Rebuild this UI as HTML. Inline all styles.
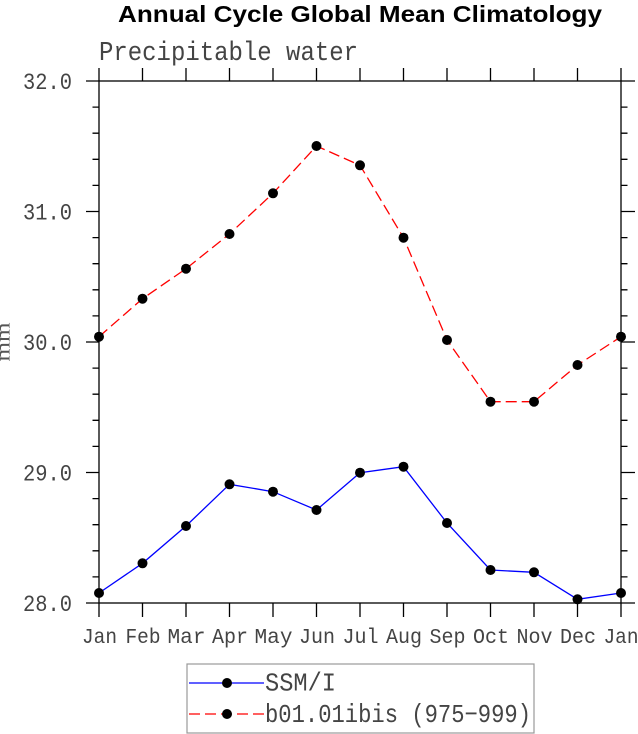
<!DOCTYPE html>
<html><head><meta charset="utf-8"><style>
html,body{margin:0;padding:0;background:#fff;}
svg{display:block;}
</style></head><body>
<svg width="638" height="734" viewBox="0 0 638 734" xmlns="http://www.w3.org/2000/svg">
<rect width="638" height="734" fill="#fff"/>
<text x="360" y="22" font-family="Liberation Sans, sans-serif" font-weight="bold" font-size="23" text-anchor="middle" textLength="484" lengthAdjust="spacingAndGlyphs" fill="#000">Annual Cycle Global Mean Climatology</text>
<text x="99" y="60" font-family="Liberation Mono, monospace" font-size="27" textLength="259" lengthAdjust="spacingAndGlyphs" fill="#444">Precipitable water</text>
<text transform="translate(9.5,342) rotate(-90)" font-family="Liberation Serif, serif" font-size="20" text-anchor="middle" textLength="39" lengthAdjust="spacingAndGlyphs" fill="#555">mm</text>
<g stroke="#000" stroke-width="1.3" fill="none">
<rect x="99" y="81" width="522" height="522"/>
<path d="M86,81H99M86,211.5H99M86,342H99M86,472.5H99M86,603H99M621,81H635M621,211.5H635M621,342H635M621,472.5H635M621,603H635"/>
<path d="M92.5,107.1H99M92.5,133.2H99M92.5,159.3H99M92.5,185.4H99M92.5,237.6H99M92.5,263.7H99M92.5,289.8H99M92.5,315.9H99M92.5,368.1H99M92.5,394.2H99M92.5,420.3H99M92.5,446.4H99M92.5,498.6H99M92.5,524.7H99M92.5,550.8H99M92.5,576.9H99M621,107.1H627.5M621,133.2H627.5M621,159.3H627.5M621,185.4H627.5M621,237.6H627.5M621,263.7H627.5M621,289.8H627.5M621,315.9H627.5M621,368.1H627.5M621,394.2H627.5M621,420.3H627.5M621,446.4H627.5M621,498.6H627.5M621,524.7H627.5M621,550.8H627.5M621,576.9H627.5"/>
<path d="M99,68V81M142.5,68V81M186,68V81M229.5,68V81M273,68V81M316.5,68V81M360,68V81M403.5,68V81M447,68V81M490.5,68V81M534,68V81M577.5,68V81M621,68V81M99,603V617M142.5,603V617M186,603V617M229.5,603V617M273,603V617M316.5,603V617M360,603V617M403.5,603V617M447,603V617M490.5,603V617M534,603V617M577.5,603V617M621,603V617"/>
</g>
<g font-family="Liberation Mono, monospace" font-size="23" fill="#444" text-anchor="end">
<text x="72" y="89" textLength="49" lengthAdjust="spacingAndGlyphs">32.0</text>
<text x="72" y="219.5" textLength="49" lengthAdjust="spacingAndGlyphs">31.0</text>
<text x="72" y="350" textLength="49" lengthAdjust="spacingAndGlyphs">30.0</text>
<text x="72" y="480.5" textLength="49" lengthAdjust="spacingAndGlyphs">29.0</text>
<text x="72" y="611" textLength="49" lengthAdjust="spacingAndGlyphs">28.0</text>
</g>
<g font-family="Liberation Mono, monospace" font-size="21" fill="#444" text-anchor="middle">
<text x="99.5" y="643" textLength="35" lengthAdjust="spacingAndGlyphs">Jan</text>
<text x="143" y="643" textLength="35" lengthAdjust="spacingAndGlyphs">Feb</text>
<text x="186.5" y="643" textLength="38" lengthAdjust="spacingAndGlyphs">Mar</text>
<text x="230" y="643" textLength="36" lengthAdjust="spacingAndGlyphs">Apr</text>
<text x="273.5" y="643" textLength="38" lengthAdjust="spacingAndGlyphs">May</text>
<text x="317" y="643" textLength="36" lengthAdjust="spacingAndGlyphs">Jun</text>
<text x="360.5" y="643" textLength="36" lengthAdjust="spacingAndGlyphs">Jul</text>
<text x="404" y="643" textLength="36" lengthAdjust="spacingAndGlyphs">Aug</text>
<text x="447.5" y="643" textLength="36" lengthAdjust="spacingAndGlyphs">Sep</text>
<text x="491" y="643" textLength="36" lengthAdjust="spacingAndGlyphs">Oct</text>
<text x="534.5" y="643" textLength="36" lengthAdjust="spacingAndGlyphs">Nov</text>
<text x="578" y="643" textLength="36" lengthAdjust="spacingAndGlyphs">Dec</text>
<text x="621" y="643" textLength="35" lengthAdjust="spacingAndGlyphs">Jan</text>
</g>
<polyline fill="none" stroke="#f00" stroke-width="1.3" stroke-dasharray="11 5" points="99,336.7 142.5,298.7 186,268.7 229.5,234 273,193.3 316.5,146 360,165.3 403.5,237.7 447,340 490.5,401.7 534,401.7 577.5,365 621,336.7"/>
<polyline fill="none" stroke="#00f" stroke-width="1.3" points="99,593 142.5,563.3 186,526 229.5,484.3 273,491.7 316.5,510 360,472.7 403.5,466.7 447,523 490.5,570 534,572.3 577.5,599.3 621,593"/>
<g fill="#000">
<circle cx="99" cy="336.7" r="5"/><circle cx="142.5" cy="298.7" r="5"/><circle cx="186" cy="268.7" r="5"/><circle cx="229.5" cy="234" r="5"/><circle cx="273" cy="193.3" r="5"/><circle cx="316.5" cy="146" r="5"/><circle cx="360" cy="165.3" r="5"/><circle cx="403.5" cy="237.7" r="5"/><circle cx="447" cy="340" r="5"/><circle cx="490.5" cy="401.7" r="5"/><circle cx="534" cy="401.7" r="5"/><circle cx="577.5" cy="365" r="5"/><circle cx="621" cy="336.7" r="5"/>
<circle cx="99" cy="593" r="5"/><circle cx="142.5" cy="563.3" r="5"/><circle cx="186" cy="526" r="5"/><circle cx="229.5" cy="484.3" r="5"/><circle cx="273" cy="491.7" r="5"/><circle cx="316.5" cy="510" r="5"/><circle cx="360" cy="472.7" r="5"/><circle cx="403.5" cy="466.7" r="5"/><circle cx="447" cy="523" r="5"/><circle cx="490.5" cy="570" r="5"/><circle cx="534" cy="572.3" r="5"/><circle cx="577.5" cy="599.3" r="5"/><circle cx="621" cy="593" r="5"/>
</g>
<rect x="187" y="664" width="347" height="69" fill="none" stroke="#999" stroke-width="1.2"/>
<line x1="189" y1="683" x2="264" y2="683" stroke="#00f" stroke-width="1.3"/>
<line x1="189" y1="714" x2="264" y2="714" stroke="#f00" stroke-width="1.3" stroke-dasharray="11 5"/>
<circle cx="227" cy="683" r="5" fill="#000"/>
<circle cx="227" cy="714" r="5" fill="#000"/>
<g font-family="Liberation Mono, monospace" font-size="26" fill="#444">
<text x="265" y="690.5" textLength="71" lengthAdjust="spacingAndGlyphs">SSM/I</text>
<text x="265" y="722" textLength="266" lengthAdjust="spacingAndGlyphs">b01.01ibis (975−999)</text>
</g>
</svg>
</body></html>
